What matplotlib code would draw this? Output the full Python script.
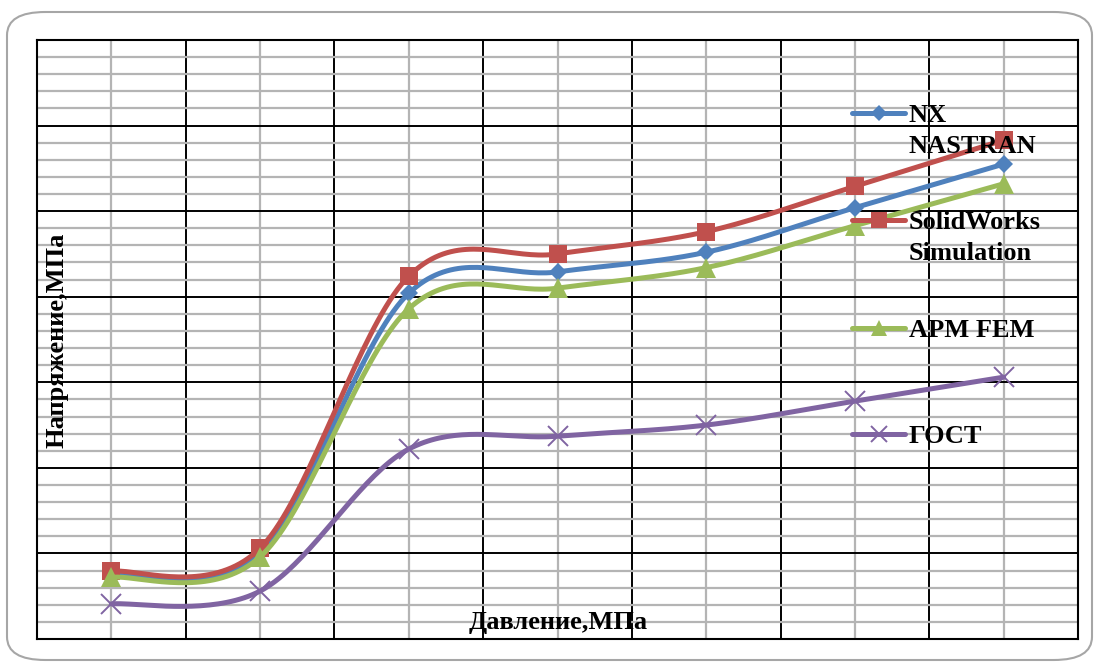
import numpy as np
import matplotlib.pyplot as plt
from matplotlib.patches import FancyBboxPatch

plt.rcParams['font.family'] = ['Liberation Serif', 'DejaVu Serif']

# seven pressure steps, stress for each method
steps = np.arange(7)
nx_nastran = [7.5, 10.1, 40.4, 42.9, 45.2, 50.4, 55.5]
solidworks = [7.9, 10.6, 42.4, 45.0, 47.6, 52.9, 58.3]
apm_fem = [7.2, 9.6, 38.6, 41.0, 43.4, 48.3, 53.2]
gost = [4.1, 5.6, 22.2, 23.7, 25.0, 27.8, 30.6]

labels = ['NX\nNASTRAN', 'SolidWorks\nSimulation', 'APM FEM', 'ГОСТ']
colors = ['#4F81BD', '#C0504D', '#9BBB59', '#8064A2']
markers = ['D', 's', '^', 'x']
msizes = [9.5, 13.5, 14, 14]


def smooth(x, y, n=40):
    # bezier smoothing through every point, control points from neighbours
    p = np.column_stack([x, y]).astype(float)
    out = []
    for i in range(len(p) - 1):
        p0 = p[i - 1] if i > 0 else p[i]
        p1, p2 = p[i], p[i + 1]
        p3 = p[i + 2] if i + 2 < len(p) else p[i + 1]
        b1 = p1 + (p2 - p0) / 6
        b2 = p2 - (p3 - p1) / 6
        t = np.linspace(0, 1, n)[:, None]
        seg = ((1 - t) ** 3) * p1 + 3 * ((1 - t) ** 2) * t * b1 + 3 * (1 - t) * t ** 2 * b2 + t ** 3 * p2
        out.append(seg)
    c = np.vstack(out)
    return c[:, 0], c[:, 1]


def px_x(px):
    return (px - 37) / 1041 * 7 - 0.5


def px_y(py):
    return (639 - py) / 599 * 70


fig = plt.figure(figsize=(10.95, 6.64), dpi=100)
frame = FancyBboxPatch((7 / 1095, 4 / 664), 1085 / 1095, 648 / 664,
                       boxstyle='round,pad=0,rounding_size=0.035',
                       transform=fig.transFigure, fc='none',
                       ec='#a6a6a6', lw=1.5, zorder=-1)
fig.patches.append(frame)
ax = fig.add_axes([37 / 1095, 25 / 664, 1041 / 1095, 599 / 664])
ax.set_facecolor('none')

ax.set_xlim(-0.5, 6.5)
ax.set_ylim(0, 70)
ax.set_xticks(np.arange(-0.5, 7, 1))
ax.set_xticks(steps, minor=True)
ax.set_yticks(np.arange(0, 71, 10))
ax.set_yticks(np.arange(0, 71, 2), minor=True)
ax.tick_params(which='both', length=0, labelbottom=False, labelleft=False)
ax.grid(which='minor', color='#b4b4b4', lw=1.6, zorder=0)
ax.grid(which='major', color='black', lw=1.4, zorder=0.5)
ax.set_axisbelow(True)
for s in ax.spines.values():
    s.set_linewidth(1.5)

series = [nx_nastran, solidworks, apm_fem, gost]
for vals, c, m, ms in zip(series, colors, markers, msizes):
    sx, sy = smooth(steps, vals)
    ax.plot(sx, sy, color=c, lw=3.6, zorder=3, solid_capstyle='round')
    ax.plot(steps, vals, ls='none', marker=m, ms=ms, color=c,
            mec=c, mew=1.4 if m == 'x' else 0, zorder=3)

# legend drawn by hand, handle lined up with the first text line
leg_y = [113, 220, 328, 434]
for lab, c, m, ms, py in zip(labels, colors, markers, msizes, leg_y):
    yy = px_y(py)
    x0, x1 = px_x(852), px_x(905)
    ax.plot([x0, x1], [yy, yy], color=c, lw=3.6, zorder=5, clip_on=False,
            solid_capstyle='round')
    ax.plot([(x0 + x1) / 2], [yy], marker=m, ms=ms * 0.85, color=c, mec=c,
            mew=1.4 if m == 'x' else 0, zorder=5, clip_on=False)
    ax.text(px_x(909), px_y(py - 9), lab, fontsize=19, fontweight='bold',
            va='top', ha='left', linespacing=1.45, zorder=6)

fig.text(57 / 1095, 1 - 340 / 664, 'Напряжение,МПа', rotation=90, fontsize=19,
         fontweight='bold', ha='center', va='center')
fig.text(558 / 1095, 1 - 622 / 664, 'Давление,МПа', fontsize=19,
         fontweight='bold', ha='center', va='center')

fig.savefig('out.png', dpi=100)
